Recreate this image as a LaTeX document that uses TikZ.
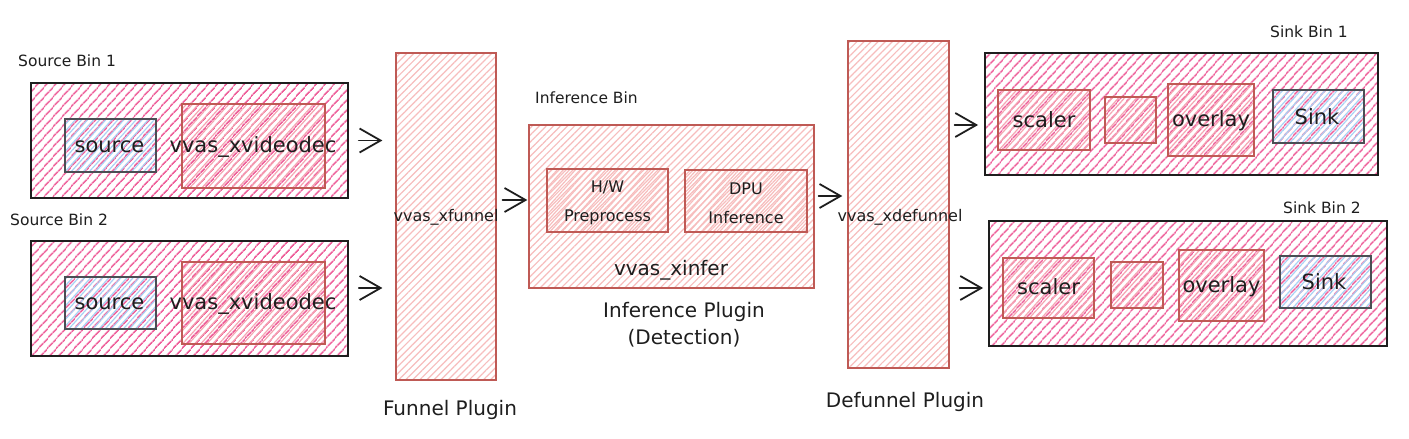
\documentclass[tikz,border=0pt]{standalone}
\usepackage{fontspec}
\setmainfont{DejaVu Sans}
\usetikzlibrary{arrows.meta,patterns.meta,calc}
\definecolor{ink}{HTML}{1E1E1E}
\definecolor{hpink}{HTML}{EE5F9A}
\definecolor{redstroke}{HTML}{BF5A55}
\definecolor{lred}{HTML}{F5A5B2}
\definecolor{lpink}{HTML}{F7BDBD}
\definecolor{gstroke}{HTML}{4A4E54}
\definecolor{lblue}{HTML}{A8D2F5}
\tikzset{
  binbox/.style={draw=ink, line width=1.8pt, inner sep=0pt,
    pattern={Lines[angle=48,distance=6.5pt,line width=1.6pt]}, pattern color=hpink},
  elembox/.style={draw=redstroke, line width=1.6pt, inner sep=0pt,
    pattern={Lines[angle=48,distance=4.5pt,line width=1.2pt]}, pattern color=lred},
  plugbox/.style={draw=redstroke, line width=1.3pt, inner sep=0pt,
    pattern={Lines[angle=45,distance=5pt,line width=1.2pt]}, pattern color=lpink},
  endbox/.style={draw=gstroke, line width=1.6pt, inner sep=0pt,
    pattern={Lines[angle=48,distance=4.5pt,line width=1.2pt]}, pattern color=lblue},
  bigtxt/.style={text=ink, inner sep=0pt, font=\fontsize{21}{25}\selectfont},
  midtxt/.style={text=ink, inner sep=0pt, font=\fontsize{20}{27}\selectfont, align=center},
  smalltxt/.style={text=ink, inner sep=0pt, font=\fontsize{15.5}{18}\selectfont},
  tinytxt/.style={text=ink, inner sep=0pt, font=\fontsize{16}{29}\selectfont, align=center},
  arr/.style={draw=ink, line width=1.8pt, line cap=round,
    -{Straight Barb[length=21pt,width=24pt,line width=1.8pt]}},
}
\begin{document}
\begin{tikzpicture}[x=1pt,y=-1pt]
\useasboundingbox[fill=white] (0,0) rectangle (1409,439);

% ---------- Source bins ----------
\node[smalltxt, anchor=west] (lsb1) at (18,61) {Source Bin 1};
\node[binbox, minimum width=317pt, minimum height=115pt] (sb1) at (189.5,140.5) {};
\node[endbox, minimum width=91pt, minimum height=53pt] (src1) at (110.5,145.5) {};
\node[bigtxt] (tsrc1) at (109.5,147) {source};
\node[elembox, minimum width=143pt, minimum height=84pt] (dec1) at (253.5,146) {};
\node[bigtxt] (tdec1) at (253,147) {vvas\_xvideodec};

\node[smalltxt, anchor=west] (lsb2) at (10,220) {Source Bin 2};
\node[binbox, minimum width=317pt, minimum height=115pt] (sb2) at (189.5,298.5) {};
\node[endbox, minimum width=91pt, minimum height=52pt] (src2) at (110.5,303) {};
\node[bigtxt] (tsrc2) at (109.5,304) {source};
\node[elembox, minimum width=143pt, minimum height=82pt] (dec2) at (253.5,303) {};
\node[bigtxt] (tdec2) at (253,304) {vvas\_xvideodec};

% ---------- Funnel ----------
\node[plugbox, minimum width=100pt, minimum height=327pt] (funnel) at (446,216.5) {};
\node[smalltxt, font=\fontsize{16}{19}\selectfont] (tfunnel) at (446,217) {vvas\_xfunnel};
\node[midtxt] (lfunnel) at (450,410) {Funnel Plugin};

% ---------- Inference ----------
\node[smalltxt, anchor=west] (lib) at (535,98) {Inference Bin};
\node[plugbox, minimum width=285pt, minimum height=163pt] (infer) at (671.5,206.5) {};
\node[elembox, pattern color=lpink, minimum width=121pt, minimum height=63pt] (hw) at (607.5,200.5) {};
\node[tinytxt] (thw) at (607.5,203) {H/W\\Preprocess};
\node[elembox, pattern color=lpink, minimum width=122pt, minimum height=62pt] (dpu) at (746,201) {};
\node[tinytxt] (tdpu) at (746,203) {DPU\\Inference};
\node[midtxt] (tinfer) at (671,270) {vvas\_xinfer};
\node[midtxt] (linfer) at (684,325) {Inference Plugin\\(Detection)};

% ---------- Defunnel ----------
\node[plugbox, minimum width=101pt, minimum height=327pt] (defunnel) at (898.5,204.5) {};
\node[smalltxt, font=\fontsize{16}{19}\selectfont] (tdefunnel) at (900,217) {vvas\_xdefunnel};
\node[midtxt] (ldefunnel) at (905,402) {Defunnel Plugin};

% ---------- Sink bins ----------
\node[smalltxt, anchor=west] (lsk1) at (1270,32) {Sink Bin 1};
\node[binbox, minimum width=393pt, minimum height=122pt] (sk1) at (1181.5,114) {};
\node[elembox, minimum width=92pt, minimum height=60pt] (sc1) at (1044,120) {};
\node[bigtxt] (tsc1) at (1044,120) {scaler};
\node[elembox, minimum width=51pt, minimum height=46pt] (em1) at (1130.5,120) {};
\node[elembox, minimum width=86pt, minimum height=72pt] (ov1) at (1211,120) {};
\node[bigtxt] (tov1) at (1211,121) {overlay};
\node[endbox, minimum width=91pt, minimum height=53pt] (si1) at (1318.5,116.5) {};
\node[bigtxt] (tsi1) at (1317,117) {Sink};

\node[smalltxt, anchor=west] (lsk2) at (1283,208) {Sink Bin 2};
\node[binbox, minimum width=398pt, minimum height=125pt] (sk2) at (1188,283.5) {};
\node[elembox, minimum width=91pt, minimum height=60pt] (sc2) at (1048.5,288) {};
\node[bigtxt] (tsc2) at (1048.5,287) {scaler};
\node[elembox, minimum width=52pt, minimum height=46pt] (em2) at (1137,285) {};
\node[elembox, minimum width=85pt, minimum height=71pt] (ov2) at (1221.5,285.5) {};
\node[bigtxt] (tov2) at (1221.5,287) {overlay};
\node[endbox, minimum width=91pt, minimum height=52pt] (si2) at (1325.5,282) {};
\node[bigtxt] (tsi2) at (1324,282) {Sink};

% ---------- Connectors ----------
\draw[arr, shorten <=10pt, shorten >=13pt] (sb1.east) -- (sb1.east -| funnel.west);
\draw[arr, shorten <=10pt, shorten >=13pt] ([yshift=10.5pt]sb2.east) -- ([yshift=10.5pt]sb2.east -| funnel.west);
\draw[arr, shorten <=6pt, shorten >=1pt] ([yshift=6.5pt]infer.west -| funnel.east) -- ([yshift=6.5pt]infer.west);
\draw[arr, shorten <=4pt, shorten >=5pt] ([yshift=10.5pt]infer.east) -- ([yshift=10.5pt]infer.east -| defunnel.west);
\draw[arr, shorten <=5pt, shorten >=6pt] ([yshift=-11pt]sk1.west -| defunnel.east) -- ([yshift=-11pt]sk1.west);
\draw[arr, shorten <=10pt, shorten >=5pt] ([yshift=-4.5pt]sk2.west -| defunnel.east) -- ([yshift=-4.5pt]sk2.west);
\end{tikzpicture}
\end{document}
